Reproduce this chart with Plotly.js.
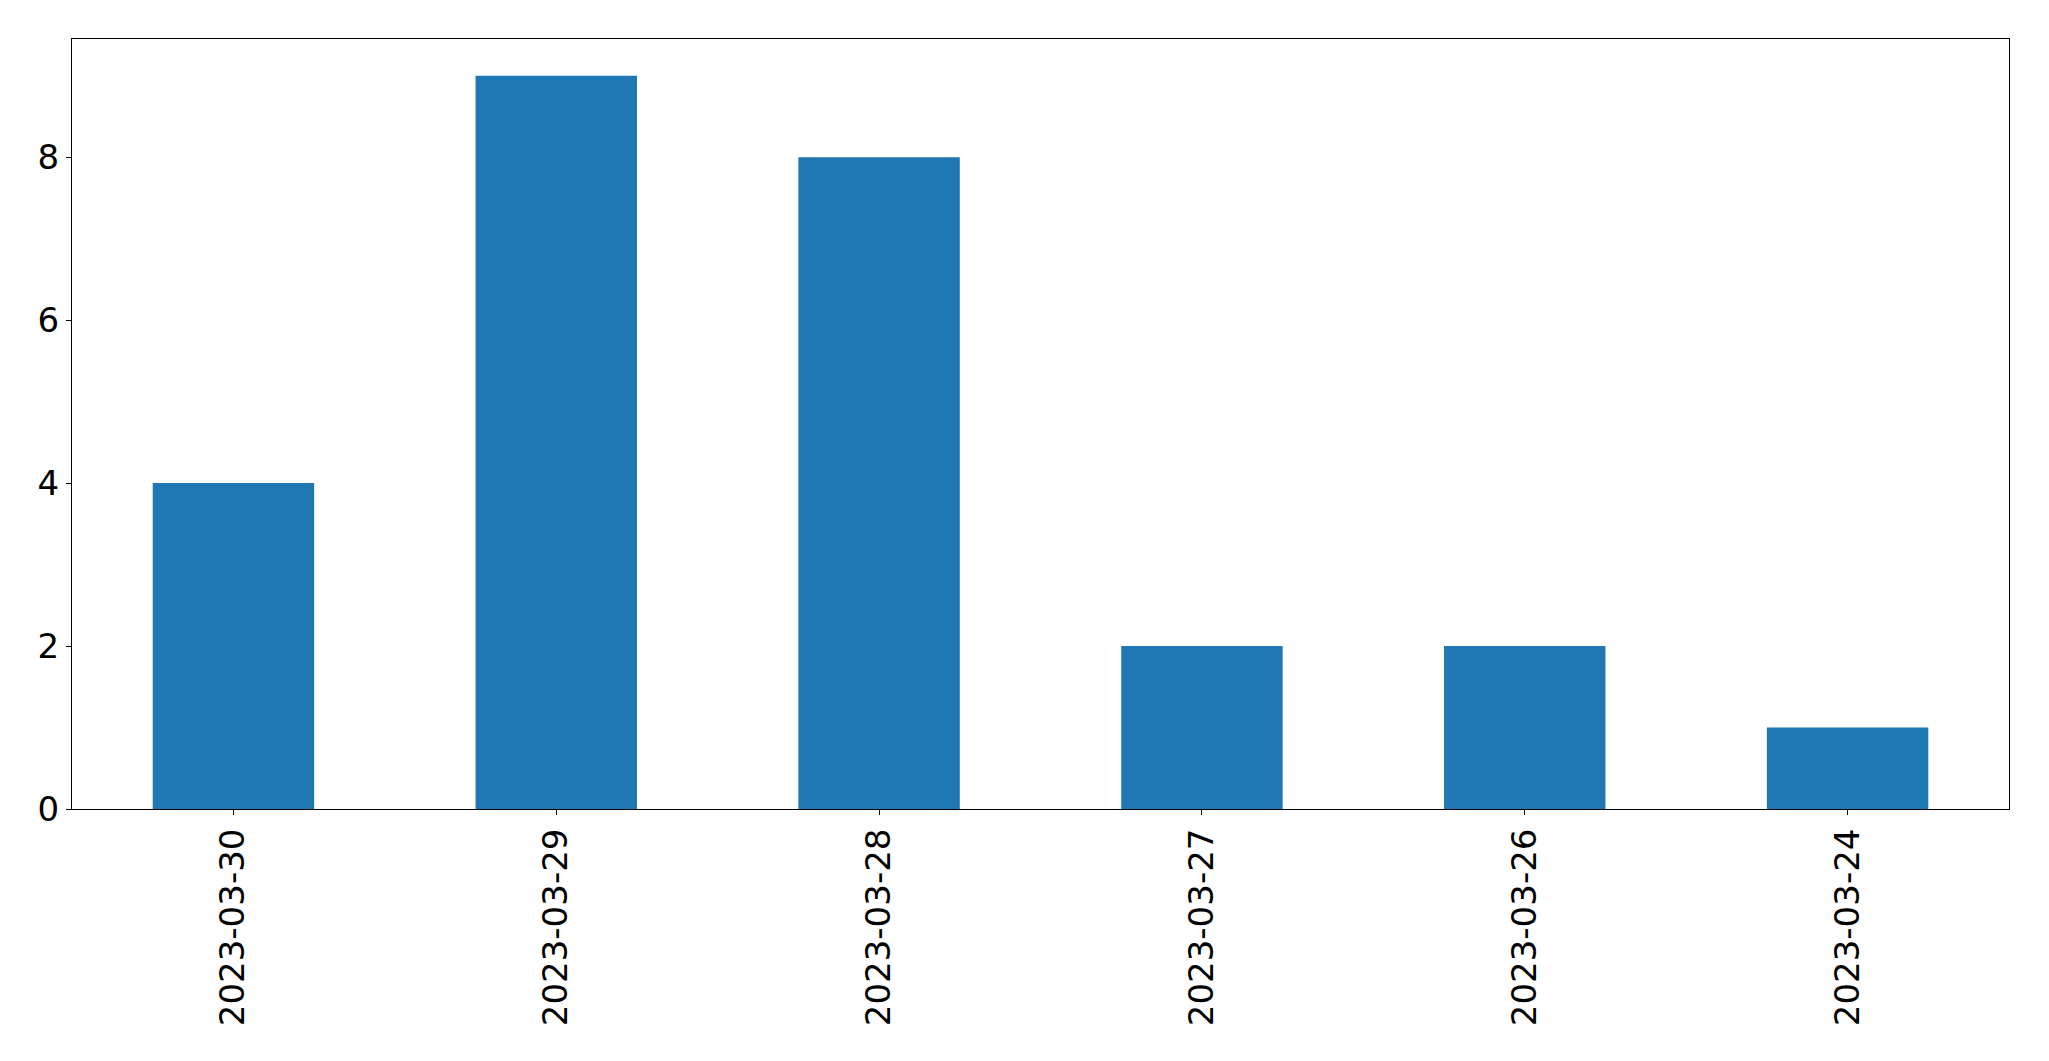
<!DOCTYPE html>
<html>
<head>
<meta charset="utf-8">
<script src="https://cdn.plot.ly/plotly-3.0.1.min.js"></script>
<style>html,body{margin:0;padding:0;background:#fff;}#chart{width:2049px;height:1061px;}</style>
</head>
<body>
<div id="chart"></div>
<script>
const categories = ["2023-03-30", "2023-03-29", "2023-03-28", "2023-03-27", "2023-03-26", "2023-03-24"];
const values = [4, 9, 8, 2, 2, 1];
const yTicks = [0, 2, 4, 6, 8];

const trace = {
  type: "bar",
  x: categories,
  y: values,
  width: 0.5,
  marker: {color: "#1f77b4", line: {width: 0}},
  hoverinfo: "skip"
};

const font = {family: "'DejaVu Sans'", size: 34, color: "#000"};

const layout = {
  width: 2049,
  height: 1061,
  margin: {l: 72, r: 40, t: 39, b: 252, pad: 0},
  paper_bgcolor: "#fff",
  plot_bgcolor: "#fff",
  showlegend: false,
  font: font,
  xaxis: {
    type: "category",
    range: [-0.5, 5.5],
    tickangle: -90,
    ticks: "outside",
    ticklen: 5,
    tickwidth: 1,
    tickcolor: "#000",
    showline: true,
    linecolor: "#000",
    linewidth: 1,
    mirror: true,
    showgrid: false,
    zeroline: false,
    tickfont: font,
    ticklabelstandoff: 0
  },
  yaxis: {
    range: [0, 9.45],
    tickvals: yTicks,
    ticktext: yTicks.map(String),
    ticks: "outside",
    ticklen: 5,
    tickwidth: 1,
    tickcolor: "#000",
    showline: true,
    linecolor: "#000",
    linewidth: 1,
    mirror: true,
    showgrid: false,
    zeroline: false,
    tickfont: font,
    ticklabelstandoff: 0
  }
};

Plotly.newPlot("chart", [trace], layout, {displayModeBar: false, staticPlot: true});
</script>
</body>
</html>
